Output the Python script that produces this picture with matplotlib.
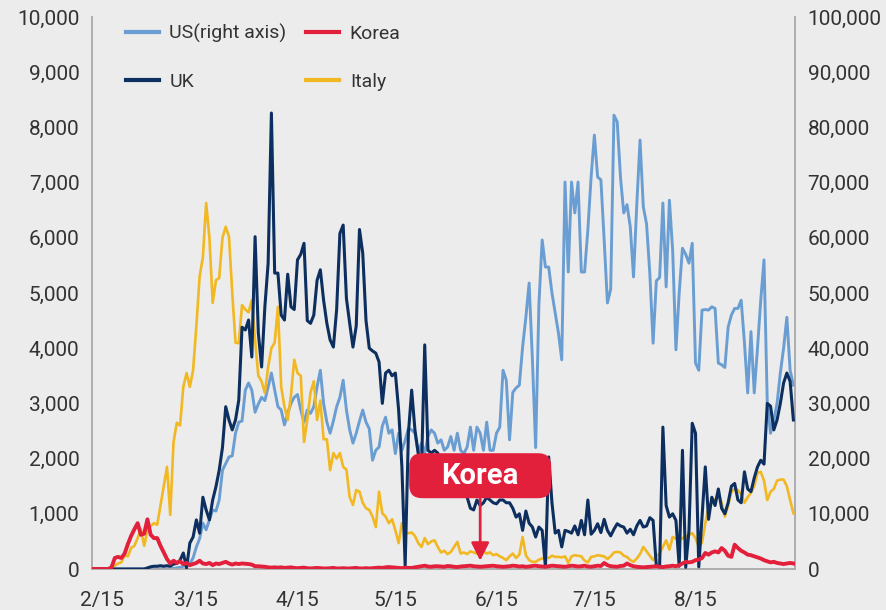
import pandas as pd
import matplotlib
matplotlib.use("Agg")
import matplotlib.pyplot as plt
import matplotlib.dates as mdates
import matplotlib.transforms as mtransforms
from matplotlib.patches import FancyBboxPatch
from matplotlib.ticker import FuncFormatter, MultipleLocator

# daily new cases, 2020-02-12 .. 2020-09-14
start_date = "2020-02-12"
tick_dates = ["2020-02-15", "2020-03-15", "2020-04-15", "2020-05-15",
              "2020-06-15", "2020-07-15", "2020-08-15"]
tick_labels = ["2/15", "3/15", "4/15", "5/15", "6/15", "7/15", "8/15"]

italy = [
    0, 0, 0, 0, 0, 0, 20, 60, 100, 120,
    250, 230, 380, 420, 560, 720, 420, 700, 780, 830,
    800, 1150, 1500, 1850, 980, 2300, 2650, 2600, 3300, 3550,
    3300, 3600, 4400, 5300, 5650, 6630, 6000, 4820, 5230, 5270,
    6000, 6200, 6020, 5000, 4100, 4090, 4780, 4700, 4650, 4870,
    4150, 3500, 3400, 3190, 3660, 4000, 4100, 4750, 3300, 2940,
    2700, 3150, 3790, 3550, 3500, 2300, 2700, 3200, 3400, 2700,
    3050, 2350, 2350, 1790, 2100, 2000, 2100, 1850, 1800, 1300,
    1160, 1430, 1400, 1200, 1100, 1070, 950, 760, 1400, 1010,
    950, 830, 900, 700, 470, 830, 650, 650, 660, 600,
    470, 400, 560, 450, 500, 520, 400, 300, 330, 270,
    310, 400, 490, 280, 300, 270, 320, 300, 280, 340,
    320, 280, 300, 250, 270, 230, 200, 160, 230, 280,
    200, 260, 580, 250, 160, 130, 130, 170, 190, 210,
    200, 240, 220, 220, 210, 230, 110, 230, 250, 240,
    230, 150, 120, 220, 230, 250, 240, 230, 180, 230,
    300, 310, 300, 240, 220, 160, 130, 190, 270, 400,
    320, 240, 160, 240, 280, 400, 520, 350, 580, 550,
    520, 560, 580, 620, 650, 560, 400, 480, 830, 1120,
    1200, 1250, 1370, 1200, 950, 1150, 1400, 1450, 1430, 1350,
    1200, 1300, 1380, 1500, 1740, 1760, 1600, 1250, 1400, 1450,
    1600, 1620, 1620, 1500, 1250, 1010,
]

uk = [
    0, 0, 0, 0, 0, 0, 0, 0, 0, 0,
    0, 0, 0, 0, 0, 0, 0, 20, 40, 50,
    50, 60, 50, 60, 50, 90, 100, 160, 290, 20,
    470, 580, 890, 650, 1300, 1070, 890, 1250, 1490, 1790,
    2200, 2940, 2700, 2520, 2700, 3060, 4380, 4330, 4510, 3840,
    6020, 4270, 3660, 4750, 5540, 8260, 5360, 5360, 4600, 4510,
    5340, 4750, 4700, 5600, 5700, 5900, 4500, 4450, 4600, 5230,
    5420, 4870, 4450, 4150, 4020, 4700, 6080, 6230, 4900, 4450,
    4020, 4400, 6150, 5720, 4500, 4000, 3950, 3910, 3750, 3000,
    3550, 3600, 3500, 3550, 2880, 1850, 60, 2460, 3240, 2520,
    2100, 1800, 4060, 2150, 2100, 2150, 2100, 1900, 1750, 1600,
    1900, 1500, 1650, 1400, 1550, 1300, 1100, 1070, 1250, 1150,
    1200, 1300, 1250, 1200, 1180, 1250, 1250, 1200, 1200, 1100,
    940, 1000, 700, 1050, 830, 760, 580, 760, 700, 40,
    2030, 1200, 650, 700, 400, 700, 680, 650, 780, 620,
    880, 620, 1250, 630, 700, 820, 660, 900, 700, 600,
    720, 820, 780, 760, 650, 720, 620, 780, 880, 760,
    780, 930, 880, 50, 40, 2570, 1150, 940, 1000, 880,
    50, 2150, 30, 700, 2640, 2460, 40, 940, 1850, 900,
    1300, 1150, 1450, 1100, 1000, 1200, 1500, 1550, 1250, 1200,
    1760, 1450, 1400, 1650, 1850, 1970, 1900, 3000, 2950, 2520,
    2700, 3000, 3370, 3550, 3400, 2700,
]

korea = [
    0, 0, 0, 0, 0, 0, 30, 200, 220, 200,
    280, 450, 600, 720, 830, 620, 640, 900, 620, 560,
    560, 420, 300, 180, 100, 150, 110, 140, 90, 110,
    70, 90, 110, 150, 100, 90, 110, 70, 100, 90,
    110, 130, 100, 80, 100, 90, 100, 95, 90, 80,
    50, 50, 45, 40, 30, 25, 30, 25, 30, 20,
    25, 30, 20, 15, 20, 25, 15, 10, 15, 20,
    15, 10, 10, 15, 20, 10, 10, 15, 10, 10,
    15, 20, 10, 10, 15, 10, 15, 20, 25, 20,
    30, 35, 30, 25, 20, 15, 25, 20, 20, 30,
    40, 50, 60, 45, 40, 50, 50, 45, 40, 55,
    50, 40, 35, 45, 50, 55, 60, 50, 45, 40,
    45, 50, 55, 60, 50, 45, 40, 45, 50, 60,
    55, 45, 50, 40, 45, 55, 60, 50, 45, 40,
    50, 60, 55, 50, 45, 40, 50, 60, 55, 45,
    50, 60, 45, 40, 50, 60, 55, 110, 70, 50,
    45, 40, 55, 60, 100, 70, 50, 40, 35, 30,
    35, 40, 45, 50, 40, 35, 45, 50, 60, 50,
    70, 100, 130, 120, 130, 160, 170, 200, 290, 260,
    300, 320, 300, 380, 330, 240, 220, 440, 380, 330,
    300, 260, 250, 230, 210, 190, 160, 140, 120, 130,
    110, 100, 90, 100, 110, 100,
]

us = [
    0, 0, 0, 0, 0, 0, 0, 0, 0, 0,
    0, 0, 0, 0, 0, 0, 0, 0, 0, 0,
    0, 0, 0, 0, 50, 100, 200, 300, 500, 700,
    1000, 2000, 4000, 5500, 8300, 7100, 8900, 10700, 10500, 12500,
    17900, 19100, 20300, 20500, 24600, 26600, 26800, 32400, 33700, 32400,
    28400, 29900, 31100, 30500, 33000, 35500, 32400, 29400, 28800, 26100,
    28200, 30000, 31100, 31600, 28800, 26600, 28800, 28200, 29400, 33000,
    36000, 30000, 26600, 24600, 26800, 29400, 31100, 34200, 28800, 25200,
    22800, 24600, 26800, 28800, 26600, 25400, 19700, 21500, 22100, 25900,
    27500, 24600, 25200, 20900, 24600, 21500, 23300, 25500, 25200, 24600,
    21000, 22800, 21000, 24000, 25200, 24600, 22800, 23400, 21500, 22100,
    24000, 21500, 24600, 21500, 20900, 22100, 25700, 21500, 25700, 24600,
    21500, 26600, 21500, 21500, 24600, 25700, 36000, 34200, 23400, 32000,
    32800, 33300, 40200, 45600, 51800, 38000, 22000, 48000, 59600, 54700,
    54700, 50000, 46400, 42700, 37900, 70100, 53800, 70100, 64500, 70100,
    53800, 53800, 61400, 71000, 78600, 71000, 70500, 59600, 48200, 50700,
    82200, 81000, 71000, 64500, 66000, 62000, 52900, 66000, 77700, 65600,
    62500, 53500, 40900, 52200, 52800, 66300, 51100, 66800, 57700, 39700,
    50000, 58100, 57000, 55400, 59000, 37300, 36000, 46900, 47000, 46900,
    47500, 47200, 37300, 37000, 36500, 43800, 46000, 47200, 47200, 48700,
    41000, 31900, 43000, 31900, 40000, 48700, 56000, 30100, 24600, 27000,
    30000, 35500, 40000, 45600, 36000, 33300,
]

BG = "#ececec"
TEXT = "#333333"
SPINE = "#a8a8a8"
US_BLUE = "#6a9ed3"
UK_NAVY = "#0d2f5f"
ITALY_GOLD = "#f2b822"
KOREA_RED = "#e3203b"

plt.rcParams["font.family"] = ["Roboto", "DejaVu Sans"]

dates = pd.date_range(start_date, periods=len(uk), freq="D")

fig = plt.figure(figsize=(8.86, 6.10), dpi=100, facecolor=BG)
ax = fig.add_axes([0.1038, 0.0672, 0.7935, 0.905])
ax_us = ax.twinx()
# left-axis series sit above the US line
ax.set_zorder(ax_us.get_zorder() + 1)
ax.patch.set_visible(False)

(l_us,) = ax_us.plot(dates, us, color=US_BLUE, lw=2.1)
(l_it,) = ax.plot(dates, italy, color=ITALY_GOLD, lw=1.9, zorder=2)
(l_uk,) = ax.plot(dates, uk, color=UK_NAVY, lw=2.2, zorder=3)
(l_kr,) = ax.plot(dates, korea, color=KOREA_RED, lw=2.8, zorder=4)

ax.set_xlim(dates[0], dates[-1] + pd.Timedelta(hours=12))
ax.set_ylim(0, 10000)
ax_us.set_ylim(0, 100000)
ax.yaxis.set_major_locator(MultipleLocator(1000))
ax_us.yaxis.set_major_locator(MultipleLocator(10000))
comma = FuncFormatter(lambda v, _: f"{v:,.0f}")
ax.yaxis.set_major_formatter(comma)
ax_us.yaxis.set_major_formatter(comma)
ax.set_xticks(pd.to_datetime(tick_dates))
ax.set_xticklabels(tick_labels)

for a in (ax, ax_us):
    a.tick_params(length=0, labelsize=15, colors=TEXT)
ax.tick_params(axis="y", pad=9)
ax.tick_params(axis="x", pad=16)
ax_us.tick_params(axis="y", pad=9)

for side in ("top", "right"):
    ax.spines[side].set_visible(False)
for side in ("top", "left", "bottom"):
    ax_us.spines[side].set_visible(False)
for sp in (ax.spines["left"], ax.spines["bottom"], ax_us.spines["right"]):
    sp.set_color(SPINE)
    sp.set_linewidth(1.3)

leg = ax.legend([l_us, l_uk, l_kr, l_it], ["US(right axis)", "UK", "Korea", "Italy"],
                ncol=2, loc="upper left", bbox_to_anchor=(0.048, 0.988),
                frameon=False, fontsize=14, handlelength=1.7, handletextpad=0.55,
                columnspacing=1.0, labelspacing=1.55, borderpad=0, borderaxespad=0)
for t in leg.get_texts():
    t.set_color(TEXT)
for h in leg.legend_handles:
    h.set_linewidth(3)

# red callout pointing at the Korea line
xk = mdates.date2num(dates[119])
yk = 1690
box_trans = fig.dpi_scale_trans + mtransforms.ScaledTranslation(xk, yk, ax.transData)
box = FancyBboxPatch((-0.71, -0.225), 1.42, 0.45,
                     boxstyle="round,pad=0,rounding_size=0.13",
                     transform=box_trans, fc=KOREA_RED, ec="none",
                     zorder=6, clip_on=False)
ax.add_artist(box)
ax.text(xk, yk, "Korea", ha="center", va="center", fontsize=21,
        fontweight="bold", color="white", zorder=7)
ax.annotate("", xy=(xk, 150), xytext=(xk, yk),
            arrowprops=dict(arrowstyle="-|>,head_length=0.6,head_width=0.3",
                            color=KOREA_RED, lw=2, shrinkA=16.2, shrinkB=0,
                            mutation_scale=18),
            zorder=5)

fig.savefig("out.png", dpi=100, facecolor=BG)
